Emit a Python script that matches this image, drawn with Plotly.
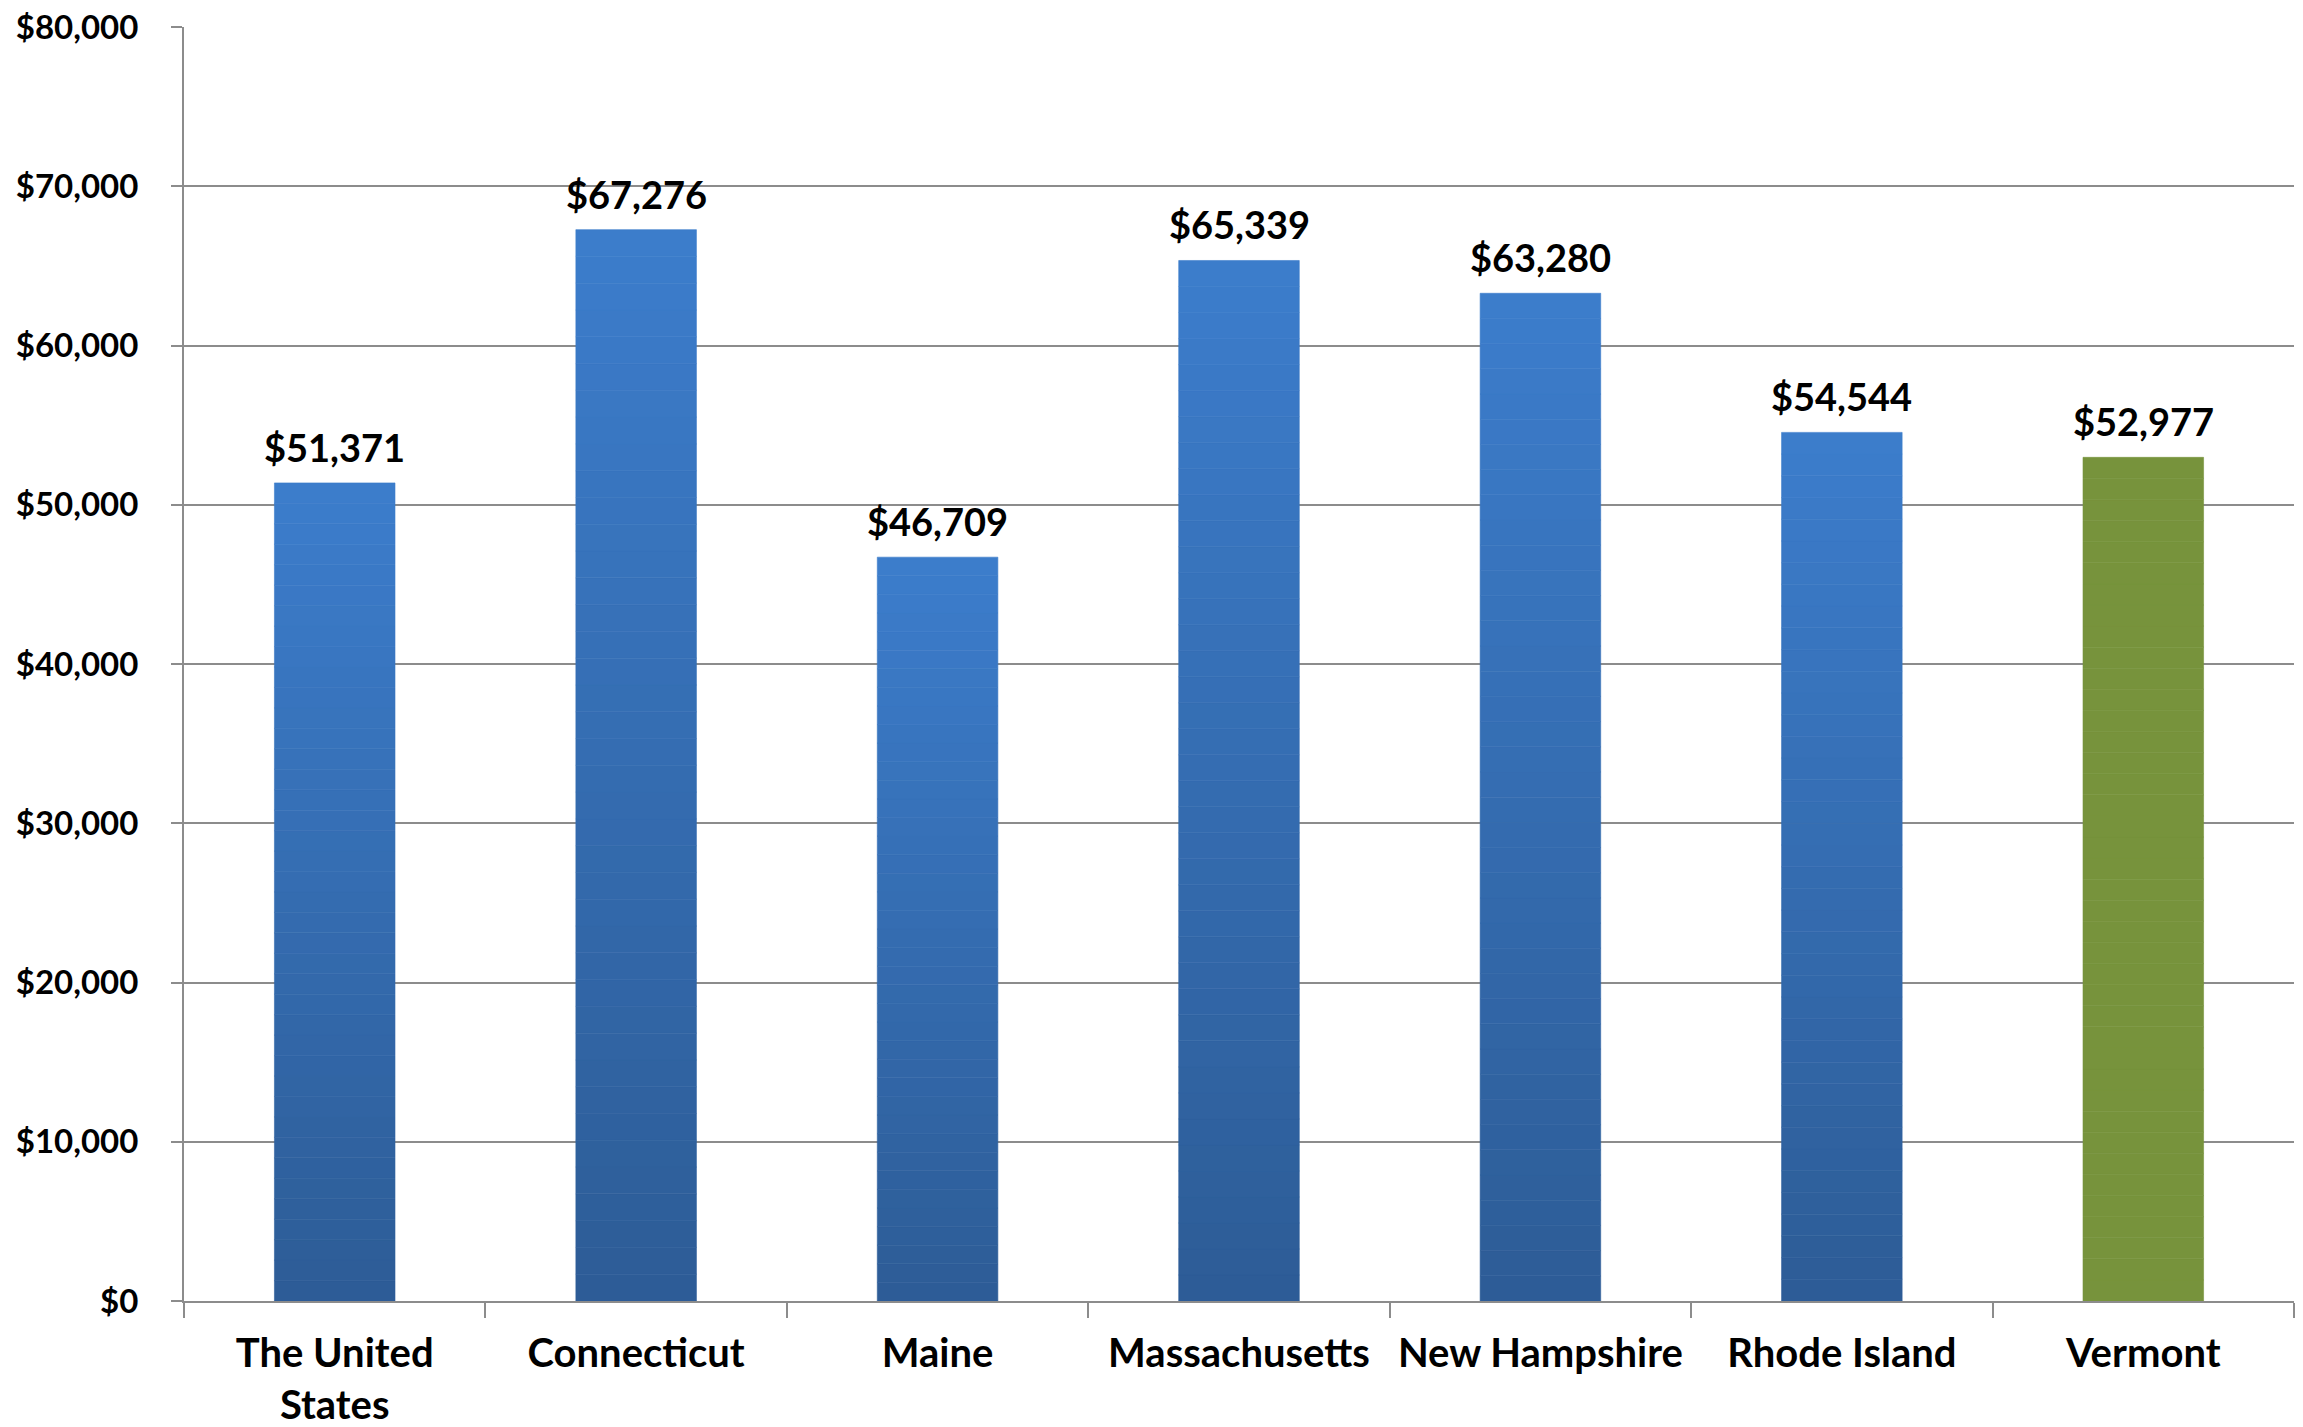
import plotly.graph_objects as go

categories = ["The United<br>States", "Connecticut", "Maine", "Massachusetts",
              "New Hampshire", "Rhode Island", "Vermont"]
values = [51371, 67276, 46709, 65339, 63280, 54544, 52977]
labels = ["$51,371", "$67,276", "$46,709", "$65,339", "$63,280", "$54,544", "$52,977"]
y_ticks = [0, 10000, 20000, 30000, 40000, 50000, 60000, 70000, 80000]

FONT = "Lato, 'Open Sans', sans-serif"
top_rgb = (60, 125, 204)
bot_rgb = (45, 92, 150)
green = "#77933C"
N = 40

def mix(f):
    r = [round(bot_rgb[k] + (top_rgb[k] - bot_rgb[k]) * f) for k in range(3)]
    return f"rgb({r[0]},{r[1]},{r[2]})"

fig = go.Figure()
for i in range(N):
    f = (i + 0.5) / N
    cols = [green if c == "Vermont" else mix(f) for c in categories]
    fig.add_trace(go.Bar(
        x=categories,
        y=[v / N for v in values],
        base=[v * i / N for v in values],
        marker=dict(color=cols, line=dict(width=0.6, color=cols)),
        width=0.4,
        showlegend=False,
        hoverinfo="skip",
    ))

for c, v, t in zip(categories, values, labels):
    fig.add_annotation(x=c, y=v, text=f"<b>{t}</b>", showarrow=False,
                       yanchor="bottom", yshift=11,
                       font=dict(family=FONT, size=38, color="black"))

fig.update_layout(
    barmode="overlay",
    width=2303, height=1427,
    margin=dict(l=184, r=9, t=27, b=126),
    paper_bgcolor="white", plot_bgcolor="white",
    font=dict(family=FONT, size=34, color="black"),
)
fig.update_xaxes(
    automargin=False,
    showline=True, linecolor="#8C8C8C", linewidth=2,
    ticks="outside", tickson="boundaries", ticklen=15, tickcolor="#8C8C8C", tickwidth=2,
    showgrid=False,
    tickfont=dict(family=FONT, size=40, color="black"),
    ticklabelstandoff=16,
    ticklabeloverflow="allow",
    tickvals=categories,
    ticktext=[f"<b>{c}</b>" for c in categories],
)
fig.update_yaxes(
    automargin=False,
    range=[0, 80000], tickvals=y_ticks,
    ticktext=[f"<b>${v:,}</b>" for v in y_ticks],
    showline=True, linecolor="#8C8C8C", linewidth=2,
    ticks="outside", ticklen=11, tickcolor="#8C8C8C", tickwidth=2,
    showgrid=True, gridcolor="#8C8C8C", gridwidth=2,
    zeroline=False,
    tickfont=dict(family=FONT, size=33, color="black"),
    ticklabelstandoff=26,
    ticklabeloverflow="allow",
)

fig.write_html(
    "out.html",
    config={"displayModeBar": False, "staticPlot": True},
    post_script="document.body.style.margin='0';document.body.style.overflow='hidden';",
)
